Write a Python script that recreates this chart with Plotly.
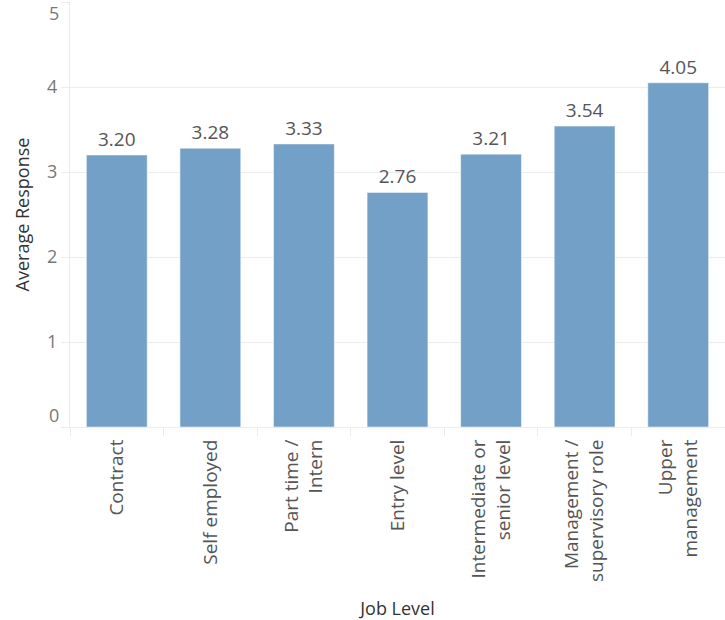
import plotly.graph_objects as go

# Average response by job level
job_levels = [
    "Contract",
    "Self employed",
    "Part time /<br>Intern",
    "Entry level",
    "Intermediate or<br>senior level",
    "Management /<br>supervisory role",
    "Upper<br>management",
]
avg_response = [3.20, 3.28, 3.33, 2.76, 3.21, 3.54, 4.05]

# y ticks: the end labels (0 and 5) are nudged inward, Tableau style
y_tickvals = [0, 1, 2, 3, 4, 5]
y_ticktext = ["", "1", "2", "3", "4", ""]
y_end_labels = {0: "0", 5: "5"}

bar_color = "#73a0c6"
grid_color = "#ececec"
font_name = "Open Sans"

fig = go.Figure()

fig.add_trace(go.Bar(
    x=job_levels,
    y=avg_response,
    marker=dict(color=bar_color, line=dict(color="white", width=0.5)),
    text=[f"{v:.2f}" for v in avg_response],
    textposition="outside",
    textfont=dict(family=font_name, size=19, color="#555555"),
    cliponaxis=False,
    hoverinfo="x+y",
))

# end labels of the y axis, shifted inside the range
for val, label in y_end_labels.items():
    fig.add_annotation(
        x=0, xref="paper", xanchor="right", xshift=-9,
        y=val, yref="y", yanchor="middle",
        yshift=12 if val == 0 else -11,
        text=label, showarrow=False,
        font=dict(family=font_name, size=18, color="#777777"),
    )

fig.update_layout(
    width=725,
    height=620,
    margin=dict(l=70, r=0, t=2, b=193),
    plot_bgcolor="white",
    paper_bgcolor="white",
    bargap=0.35,
    showlegend=False,
    font=dict(family=font_name, size=18, color="#555555"),
    xaxis=dict(
        title=dict(text="Job Level", font=dict(size=18, color="#333333"), standoff=30),
        automargin=False,
        tickangle=-90,
        tickfont=dict(size=19, color="#555555"),
        ticklabelstandoff=4,
        showgrid=False,
        showline=True,
        linecolor=grid_color,
        linewidth=1,
        ticks="outside",
        tickson="boundaries",
        ticklen=8,
        tickcolor=grid_color,
    ),
    yaxis=dict(
        title=dict(text="Average Response", font=dict(size=18, color="#333333"), standoff=12),
        automargin=False,
        range=[0, 5],
        tickvals=y_tickvals,
        ticktext=y_ticktext,
        tickfont=dict(size=18, color="#777777"),
        showgrid=True,
        gridcolor=grid_color,
        zeroline=False,
        showline=True,
        linecolor=grid_color,
        ticks="outside",
        ticklen=8,
        tickcolor=grid_color,
    ),
)

# drop the browser's default body margin so the figure sits at the page corner
fig.write_html(
    "out.html",
    config={"displayModeBar": False},
    post_script="document.body.style.margin = '0';",
)
